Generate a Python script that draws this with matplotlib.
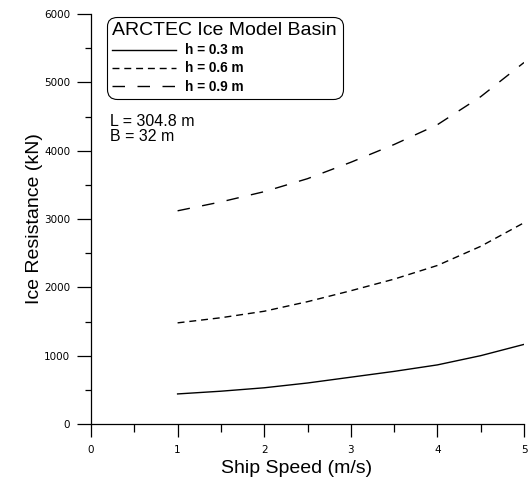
import matplotlib
matplotlib.use("Agg")
import matplotlib.pyplot as plt
from matplotlib.ticker import MultipleLocator
from matplotlib import font_manager as fm

plt.rcParams['font.family'] = ['Liberation Sans', 'DejaVu Sans']

speed = [1.0, 1.5, 2.0, 2.5, 3.0, 3.5, 4.0, 4.5, 5.0]
r_h03 = [440, 480, 530, 600, 685, 770, 865, 1000, 1165]
r_h06 = [1480, 1555, 1650, 1790, 1950, 2120, 2320, 2600, 2945]
r_h09 = [3120, 3250, 3400, 3590, 3830, 4090, 4380, 4790, 5290]
labels = ["h = 0.3 m", "h = 0.6 m", "h = 0.9 m"]

# locate regular-width Liberation Sans Bold
bold_path = None
for f in fm.findSystemFonts():
    if f.endswith("LiberationSans-Bold.ttf"):
        bold_path = f
        break
if bold_path:
    leg_prop = fm.FontProperties(fname=bold_path, size=9.8)
else:
    leg_prop = fm.FontProperties(family='DejaVu Sans', weight='bold', size=9)

fig = plt.figure(figsize=(5.31, 4.80), dpi=100)
ax = fig.add_axes([91/531, 1-424/480, (524-91)/531, (424-14)/480])

ax.plot(speed, r_h03, color='black', lw=1.0, ls='-', label=labels[0])
ax.plot(speed, r_h06, color='black', lw=1.0, ls=(0, (5, 3.5)), label=labels[1])
ax.plot(speed, r_h09, color='black', lw=1.0, ls=(0, (9, 9)), label=labels[2])

ax.set_xlim(0, 5)
ax.set_ylim(0, 6000)
ax.xaxis.set_major_locator(MultipleLocator(1))
ax.xaxis.set_minor_locator(MultipleLocator(0.5))
ax.yaxis.set_major_locator(MultipleLocator(1000))
ax.yaxis.set_minor_locator(MultipleLocator(500))
for s in ['top', 'right']:
    ax.spines[s].set_visible(False)
for s in ['left', 'bottom']:
    ax.spines[s].set_linewidth(0.9)
ax.tick_params(axis='y', which='major', direction='out', length=10, width=0.9, labelsize=7.5, pad=5)
ax.tick_params(axis='y', which='minor', direction='out', length=4.5, width=0.9)
ax.tick_params(axis='x', which='major', direction='out', length=9, width=0.9, labelsize=7.5, pad=6)
ax.tick_params(axis='x', which='minor', direction='out', length=6, width=0.9)
for lab in ax.get_xticklabels() + ax.get_yticklabels():
    lab.set_family('DejaVu Sans')

ax.set_xlabel("Ship Speed (m/s)", fontsize=14, labelpad=4)
ax.xaxis.label.set_x((297 - 91) / 433)
ax.set_ylabel("Ice Resistance (kN)", fontsize=14, labelpad=1)

leg = ax.legend(loc='upper left', bbox_to_anchor=(0.037, 0.993), title="ARCTEC Ice Model Basin",
                title_fontsize=14, prop=leg_prop, frameon=True,
                fancybox=True, edgecolor='black', handlelength=4.7, handletextpad=0.6,
                labelspacing=0.3, borderpad=0.4, borderaxespad=0.0)
leg._legend_box.align = "left"
leg.get_frame().set_linewidth(0.8)
leg.get_frame().set_alpha(1)
leg.get_frame().set_boxstyle('round', pad=0, rounding_size=0.7)

ax.text(0.043, 0.755, "L = 304.8 m\nB = 32 m", transform=ax.transAxes, fontsize=11.5,
        va='top', ha='left', linespacing=0.95)

fig.savefig("out.png", dpi=100)
